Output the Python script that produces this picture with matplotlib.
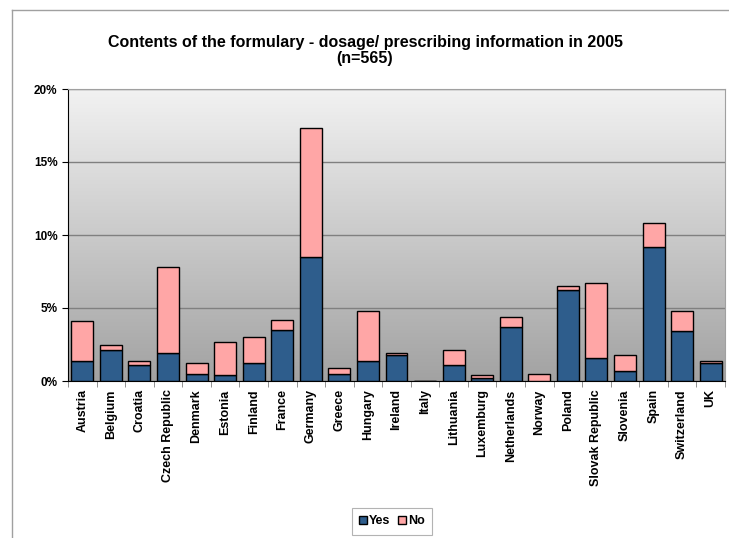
import matplotlib
matplotlib.use("Agg")
import matplotlib.pyplot as plt
import numpy as np
from matplotlib.ticker import FuncFormatter, FixedLocator

plt.rcParams['font.family'] = ['Liberation Sans', 'DejaVu Sans']

countries = ['Austria', 'Belgium', 'Croatia', 'Czech Republic', 'Denmark', 'Estonia',
             'Finland', 'France', 'Germany', 'Greece', 'Hungary', 'Ireland', 'Italy',
             'Lithuania', 'Luxemburg', 'Netherlands', 'Norway', 'Poland',
             'Slovak Republic', 'Slovenia', 'Spain', 'Switzerland', 'UK']
# percentage of formularies (n=565)
yes = [1.4, 2.1, 1.1, 1.9, 0.5, 0.4, 1.2, 3.5, 8.5, 0.5, 1.4, 1.8, 0.0,
       1.1, 0.2, 3.7, 0.0, 6.2, 1.6, 0.7, 9.2, 3.4, 1.2]
no = [2.7, 0.4, 0.3, 5.9, 0.7, 2.3, 1.8, 0.7, 8.8, 0.4, 3.4, 0.1, 0.0,
      1.0, 0.2, 0.7, 0.5, 0.3, 5.1, 1.1, 1.6, 1.4, 0.2]

fig = plt.figure(figsize=(7.29, 5.38), dpi=100)
ax = fig.add_axes([68/729, 1-381/538, 657/729, 292/538])

# outer chart border (only top/left visible)
fig.add_artist(plt.Line2D([12/729, 12/729], [0, 1-10/538], color='#a0a0a0', lw=1))
fig.add_artist(plt.Line2D([12/729, 1], [1-10/538, 1-10/538], color='#a0a0a0', lw=1))

# gradient background of plot area
grad = np.linspace(0, 1, 256).reshape(-1, 1)
ax.imshow(grad, cmap=matplotlib.colors.LinearSegmentedColormap.from_list(
    'bg', ['#a2a2a2', '#f2f2f2']), origin='lower', aspect='auto',
    extent=[0, 1, 0, 1], transform=ax.transAxes, zorder=0)

x = np.arange(len(countries))
ax.bar(x, yes, width=0.77, color='#2e5d8c', edgecolor='black', lw=1, label='Yes', zorder=3)
ax.bar(x, no, width=0.77, bottom=yes, color='#ffa6a6', edgecolor='black', lw=1, label='No', zorder=3)

ax.set_xlim(-0.5, len(countries) - 0.5)
ax.set_ylim(0, 20)
ax.set_yticks([0, 5, 10, 15, 20])
ax.yaxis.set_major_formatter(FuncFormatter(lambda v, p: '%d%%' % v))
ax.grid(axis='y', color='#808080', lw=1, zorder=1)

ax.set_xticks(x)
ax.set_xticklabels(countries, rotation=90, fontweight='bold', fontsize=9)
ax.xaxis.set_minor_locator(FixedLocator(np.arange(-0.5, len(countries), 1)))
ax.tick_params(axis='x', which='major', length=0, pad=6)
ax.tick_params(axis='x', which='minor', length=4, color='#808080')
ax.tick_params(axis='y', length=4, labelsize=8.5)
for t in ax.get_yticklabels():
    t.set_fontweight('bold')

for s in ['top', 'right']:
    ax.spines[s].set_color('#a0a0a0')
ax.spines['left'].set_color('black')
ax.spines['bottom'].set_color('black')

fig.text(365/729, 1-42/538, 'Contents of the formulary - dosage/ prescribing information in 2005',
         ha='center', va='center', fontsize=11.5, fontweight='bold')
fig.text(365/729, 1-58/538, '(n=565)', ha='center', va='center', fontsize=11.5, fontweight='bold')

leg = fig.legend(loc='center', bbox_to_anchor=(392/729, 1-521/538), ncol=2,
                 prop={'weight': 'bold', 'size': 9}, frameon=True, fancybox=False,
                 handlelength=0.6, handleheight=0.6, handletextpad=0.2, columnspacing=0.6,
                 borderpad=0.6, borderaxespad=0, edgecolor='#a0a0a0')
leg.get_frame().set_linewidth(0.8)

fig.savefig('out.png', dpi=100)
